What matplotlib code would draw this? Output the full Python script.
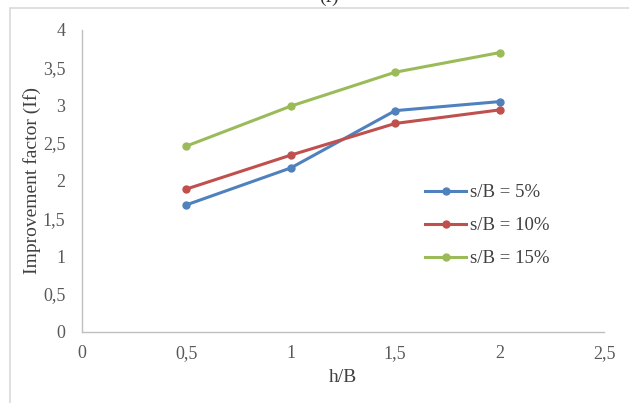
import matplotlib
matplotlib.use("Agg")
import matplotlib.pyplot as plt
from matplotlib.patches import Rectangle

# Data
hB = [0.5, 1.0, 1.5, 2.0]
sb5 = [1.68, 2.17, 2.93, 3.05]
sb10 = [1.89, 2.34, 2.76, 2.94]
sb15 = [2.46, 2.99, 3.44, 3.70]
labels = ["s/B = 5%", "s/B = 10%", "s/B = 15%"]
colors = ["#4F81BD", "#C0504D", "#9BBB59"]

xticks = [0, 0.5, 1, 1.5, 2, 2.5]
yticks = [0, 0.5, 1, 1.5, 2, 2.5, 3, 3.5, 4]

def fmt(v):
    s = ("%g" % v)
    return s.replace(".", ",")

plt.rcParams["font.family"] = ["Liberation Serif", "DejaVu Serif"]

fig = plt.figure(figsize=(6.29, 4.03), dpi=100)

# outer chart frame
fig.patches.append(Rectangle((10/629, -0.05), 1.1, 1 - 8/403 + 0.05,
                             transform=fig.transFigure, fill=False,
                             edgecolor="#d9d9d9", linewidth=1.2))
fig.text(329/629, 1 - 2/403, "(f)", ha="center", va="baseline",
         fontsize=14, color="#333333")

ax = fig.add_axes([82/629, 1 - 331.5/403, (604 - 82)/629, (331.5 - 30)/403])

for ys, lab, c in zip([sb5, sb10, sb15], labels, colors):
    ax.plot(hB, ys, color=c, linewidth=2.2, marker="o", markersize=5, label=lab)

ax.set_xlim(0, 2.5)
ax.set_ylim(0, 4)
ax.set_xticks(xticks)
ax.set_xticklabels([fmt(v) for v in xticks])
ax.set_yticks(yticks)
ax.set_yticklabels([fmt(v) for v in yticks])
ax.tick_params(length=0, labelsize=13, colors="#595959", pad=10)
ax.tick_params(axis="y", pad=12)

for sp in ["top", "right"]:
    ax.spines[sp].set_visible(False)
for sp in ["left", "bottom"]:
    ax.spines[sp].set_color("#bfbfbf")
    ax.spines[sp].set_linewidth(1.0)

ax.set_xlabel("h/B", fontsize=14, color="#404040", labelpad=5)
ax.set_ylabel("Improvement factor (If)", fontsize=14, color="#404040", labelpad=1)

ax.legend(loc="upper left", bbox_to_anchor=(0.625, 0.545), frameon=False,
          fontsize=13.5, labelcolor="#404040", handlelength=2.2,
          handletextpad=0.2, labelspacing=0.85)

fig.savefig("out.png", dpi=100)
